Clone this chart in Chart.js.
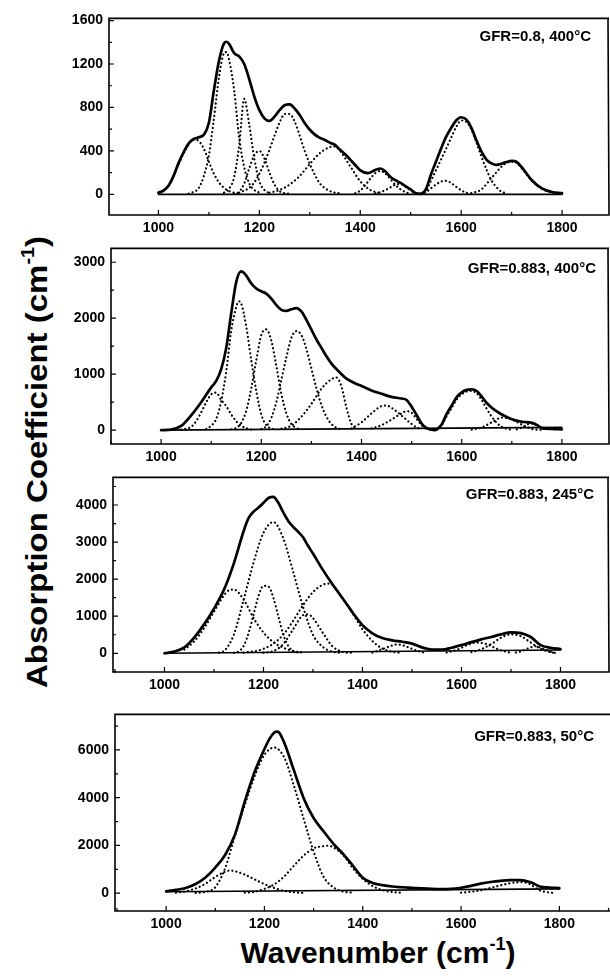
<!DOCTYPE html>
<html>
<head>
<meta charset="utf-8">
<script src="https://cdn.jsdelivr.net/npm/chart.js@4/dist/chart.umd.min.js"></script>
<style>
  body { margin: 0; background: #fff; width: 610px; height: 979px; position: relative; overflow: hidden;
         font-family: "Liberation Sans", Arial, sans-serif; color: #000; }
  canvas { position: absolute; left: 0; }
  .tag { position: absolute; font-weight: bold; font-size: 15px; white-space: nowrap; line-height: 16px; }
  .title { position: absolute; font-weight: bold; white-space: nowrap; }
  .title sup { font-size: 0.6em; vertical-align: 0.75em; line-height: 0; }
</style>
</head>
<body>

<div class="title" style="left:37px; top:462px; font-size:30px; line-height:30px; transform: translate(-50%,-50%) rotate(-90deg) scaleX(1.1);">Absorption Coefficient (cm<sup>-1</sup>)</div>
<div class="title" style="left:378px; top:938px; font-size:30px; line-height:30px; transform: translateX(-50%);">Wavenumber (cm<sup>-1</sup>)</div>

<script>
// ---- tick labels ----
const xTickVals = [1000, 1200, 1400, 1600, 1800];
const p1YTicks = [0, 400, 800, 1200, 1600];
const p2YTicks = [0, 1000, 2000, 3000];
const p3YTicks = [0, 1000, 2000, 3000, 4000];
const p4YTicks = [0, 2000, 4000, 6000];

const panelLabels = ['GFR=0.8, 400°C', 'GFR=0.883, 400°C', 'GFR=0.883, 245°C', 'GFR=0.883, 50°C'];

// ---- panel 1: GFR=0.8, 400°C  [wavenumber, absorption] ----
const p1Total = [[1000,15],[1010,35],[1020,80],[1030,170],[1040,290],[1050,390],[1060,470],[1070,510],[1080,525],[1090,550],
  [1100,660],[1110,960],[1120,1230],[1130,1390],[1135,1405],[1140,1385],[1150,1300],[1160,1270],[1170,1200],[1180,1060],
  [1190,900],[1200,775],[1210,700],[1220,676],[1230,715],[1240,775],[1250,820],[1260,828],[1270,790],[1280,730],[1290,655],
  [1300,595],[1310,550],[1320,520],[1330,500],[1340,475],[1350,455],[1360,410],[1370,370],[1380,320],[1390,270],[1400,220],
  [1415,195],[1430,225],[1440,238],[1450,210],[1460,160],[1470,130],[1480,105],[1490,75],[1500,45],[1510,10],[1520,5],
  [1530,45],[1540,180],[1550,300],[1560,420],[1570,530],[1580,610],[1590,680],[1600,710],[1610,690],[1620,615],[1630,500],
  [1640,395],[1650,320],[1660,285],[1670,272],[1680,282],[1690,298],[1700,308],[1710,298],[1720,250],[1730,190],[1740,130],
  [1760,55],[1780,22],[1800,12]];
const p1Base = [[1000,0],[1800,0]];
const p1C1 = [[1000,15],[1020,78],[1040,280],[1060,460],[1070,505],[1080,490],[1090,420],[1100,300],[1110,190],[1120,110],[1130,60],[1140,30],[1160,5]];
const p1C2 = [[1060,5],[1080,60],[1090,170],[1100,360],[1110,700],[1120,1080],[1130,1300],[1135,1310],[1140,1240],[1150,960],[1160,520],[1170,250],[1180,100],[1190,40],[1200,15]];
const p1C3 = [[1130,15],[1140,50],[1150,160],[1160,450],[1170,880],[1180,640],[1190,330],[1200,120],[1210,40],[1220,10]];
const p1C4 = [[1150,5],[1160,25],[1170,100],[1180,240],[1190,360],[1200,400],[1210,330],[1220,200],[1230,90],[1240,30],[1260,5]];
const p1C5 = [[1160,15],[1180,60],[1190,110],[1200,190],[1210,290],[1220,410],[1230,540],[1240,660],[1250,740],[1260,740],[1270,670],[1280,540],[1290,400],[1300,280],[1310,180],[1320,100],[1340,30],[1360,8]];
const p1C6 = [[1220,15],[1240,40],[1260,90],[1280,170],[1300,280],[1320,380],[1340,435],[1350,440],[1360,400],[1380,260],[1400,120],[1420,40],[1440,10]];
const p1C7 = [[1390,10],[1400,35],[1410,85],[1420,145],[1430,195],[1440,215],[1450,190],[1460,140],[1470,85],[1480,45],[1490,20],[1500,5]];
const p1C8 = [[1430,10],[1440,20],[1450,40],[1460,65],[1470,90],[1480,95],[1490,70],[1500,35],[1510,8]];
const p1C9 = [[1520,5],[1530,20],[1540,55],[1550,90],[1560,118],[1570,125],[1580,105],[1590,70],[1600,38],[1610,15],[1620,5]];
const p1C10 = [[1520,5],[1530,30],[1540,125],[1550,220],[1560,320],[1570,420],[1580,520],[1590,620],[1600,680],[1610,670],[1620,600],[1630,480],[1640,350],[1650,230],[1660,130],[1670,65],[1680,25],[1690,10]];
const p1C11 = [[1620,10],[1640,45],[1660,150],[1680,255],[1690,290],[1700,300],[1710,290],[1720,240],[1740,125],[1760,50],[1780,18],[1800,8]];

// ---- panel 2: GFR=0.883, 400°C ----
const p2Total = [[1000,0],[1020,10],[1040,75],[1060,265],[1080,500],[1100,765],[1110,880],[1120,1090],[1130,1470],[1140,2090],
  [1150,2650],[1160,2835],[1170,2760],[1180,2620],[1190,2530],[1200,2480],[1210,2440],[1220,2350],[1230,2235],[1240,2150],
  [1250,2130],[1260,2160],[1270,2180],[1280,2120],[1290,1970],[1300,1795],[1310,1620],[1320,1470],[1330,1320],[1340,1190],
  [1350,1090],[1360,1000],[1370,920],[1380,870],[1390,825],[1400,790],[1420,710],[1440,650],[1460,595],[1480,565],[1490,540],
  [1500,420],[1510,270],[1520,120],[1530,35],[1545,0],[1550,10],[1560,100],[1570,290],[1580,440],[1590,590],[1600,675],
  [1610,720],[1620,730],[1630,700],[1640,600],[1650,485],[1660,400],[1670,335],[1680,280],[1690,235],[1700,195],[1720,150],
  [1740,130],[1750,95],[1760,40],[1780,22],[1800,15]];
const p2Base = [[1000,0],[1800,50]];
const p2C1 = [[1040,10],[1060,60],[1070,160],[1080,320],[1090,500],[1100,640],[1110,670],[1120,540],[1130,430],[1140,280],[1150,160],[1160,80],[1170,35],[1180,10]];
const p2C2 = [[1090,20],[1100,80],[1110,200],[1120,520],[1130,1050],[1140,1780],[1150,2200],[1155,2300],[1160,2260],[1170,1850],[1180,1250],[1190,700],[1200,280],[1210,90],[1220,30],[1230,10]];
const p2C3 = [[1140,15],[1150,40],[1160,130],[1170,350],[1180,750],[1190,1250],[1200,1700],[1210,1800],[1220,1600],[1230,1150],[1240,650],[1250,300],[1260,110],[1270,40],[1280,10]];
const p2C4 = [[1200,20],[1210,70],[1220,220],[1230,500],[1240,900],[1250,1300],[1260,1650],[1270,1770],[1280,1700],[1290,1450],[1300,1100],[1310,750],[1320,450],[1330,240],[1340,110],[1350,45],[1360,15]];
const p2C5 = [[1240,25],[1260,80],[1280,240],[1300,470],[1320,740],[1340,910],[1350,940],[1360,780],[1370,400],[1380,110],[1390,25]];
const p2C6 = [[1380,30],[1400,140],[1420,300],[1440,430],[1450,440],[1460,400],[1480,260],[1500,110],[1510,50],[1520,15]];
const p2C7 = [[1420,30],[1440,90],[1460,190],[1480,300],[1490,340],[1500,310],[1510,200],[1520,90],[1530,20]];
const p2C8 = [[1550,10],[1560,90],[1570,250],[1580,400],[1590,550],[1600,640],[1610,690],[1620,700],[1630,660],[1640,540],[1650,380],[1660,240],[1670,130],[1680,60],[1690,25],[1700,10]];
const p2C9 = [[1620,10],[1640,50],[1660,140],[1680,225],[1690,215],[1700,190],[1720,100],[1740,20],[1760,5]];
const p2C10 = [[1710,15],[1720,45],[1730,100],[1740,120],[1750,85],[1760,30],[1770,5]];

// ---- panel 3: GFR=0.883, 245°C ----
const p3Total = [[1000,0],[1020,45],[1040,160],[1060,425],[1080,780],[1100,1205],[1120,1710],[1140,2420],[1160,3300],[1170,3650],
  [1180,3820],[1190,3930],[1200,4060],[1210,4190],[1220,4220],[1230,4060],[1240,3800],[1250,3570],[1260,3410],[1270,3280],
  [1280,3130],[1290,2900],[1300,2690],[1320,2250],[1340,1850],[1360,1480],[1380,1100],[1400,760],[1420,540],[1440,410],
  [1460,350],[1480,310],[1500,260],[1520,160],[1540,100],[1560,100],[1580,150],[1600,220],[1620,300],[1640,375],[1660,440],
  [1680,510],[1700,565],[1720,545],[1740,440],[1760,220],[1780,150],[1800,115]];
const p3Base = [[1000,0],[1800,90]];
const p3C1 = [[1040,100],[1060,320],[1080,680],[1100,1120],[1120,1560],[1130,1700],[1140,1720],[1160,1450],[1180,950],[1200,560],[1220,300],[1240,150],[1260,60],[1280,15]];
const p3C2 = [[1110,20],[1120,60],[1140,500],[1160,1450],[1180,2450],[1200,3250],[1220,3540],[1240,3100],[1260,2200],[1280,1250],[1300,500],[1320,170],[1340,40],[1360,10]];
const p3C3 = [[1140,15],[1150,50],[1160,200],[1170,550],[1180,1050],[1190,1550],[1200,1820],[1210,1800],[1220,1500],[1230,1000],[1240,500],[1250,200],[1260,60],[1270,15]];
const p3C4 = [[1200,15],[1220,60],[1240,250],[1260,650],[1280,1030],[1290,1050],[1300,950],[1320,550],[1340,180],[1360,40],[1380,10]];
const p3C5 = [[1160,20],[1180,50],[1200,120],[1220,260],[1240,500],[1260,880],[1280,1300],[1300,1650],[1320,1850],[1330,1880],[1340,1840],[1360,1480],[1380,1080],[1400,650],[1420,330],[1440,130],[1460,40],[1480,10]];
const p3C6 = [[1420,20],[1440,110],[1460,210],[1470,240],[1480,220],[1500,120],[1520,30],[1530,10]];
const p3C7 = [[1570,20],[1590,90],[1610,210],[1630,290],[1650,250],[1670,130],[1690,40],[1700,15]];
const p3C8 = [[1620,30],[1640,110],[1660,250],[1680,420],[1700,510],[1720,460],[1740,290],[1760,120],[1780,30],[1790,10]];
const p3C9 = [[1710,20],[1720,50],[1740,160],[1750,190],[1760,150],[1780,40],[1790,10]];

// ---- panel 4: GFR=0.883, 50°C ----
const p4Total = [[1000,80],[1020,140],[1040,220],[1060,385],[1080,660],[1100,1075],[1120,1600],[1140,2455],[1160,3835],[1180,5075],
  [1200,6040],[1210,6455],[1220,6730],[1225,6770],[1230,6730],[1240,6320],[1260,5145],[1280,3970],[1300,3150],[1320,2600],
  [1340,2080],[1360,1650],[1380,1150],[1400,650],[1420,430],[1440,340],[1460,280],[1480,250],[1500,225],[1520,200],
  [1540,180],[1560,170],[1580,180],[1600,230],[1620,310],[1640,400],[1660,470],[1680,520],[1700,545],[1720,545],[1740,470],
  [1750,380],[1760,280],[1770,250],[1780,240],[1800,210]];
const p4Base = [[1000,60],[1800,180]];
const p4C1 = [[1020,20],[1040,80],[1060,200],[1080,400],[1100,680],[1120,900],[1130,950],[1140,920],[1160,780],[1180,580],[1200,380],[1220,220],[1240,100],[1260,40],[1280,10]];
const p4C2 = [[1060,15],[1080,60],[1100,250],[1120,1050],[1140,2400],[1160,3700],[1180,4900],[1200,5800],[1220,6100],[1240,5700],[1260,4500],[1280,3100],[1300,1750],[1320,700],[1340,250],[1360,70],[1380,20]];
const p4C3 = [[1160,20],[1180,60],[1200,180],[1220,370],[1240,700],[1260,1150],[1280,1580],[1300,1880],[1320,1970],[1330,1990],[1340,1920],[1360,1600],[1380,1050],[1400,600],[1420,300],[1440,130],[1460,50],[1480,15]];
const p4C4 = [[1600,20],[1620,60],[1640,120],[1660,220],[1680,330],[1700,420],[1720,460],[1730,450],[1740,380],[1750,250],[1760,120],[1780,30],[1790,10]];

const FONT = '"Liberation Sans", Arial, sans-serif';

// box frame + inward tick marks
const framePlugin = {
  id: 'frame',
  afterDraw(chart, args, opts) {
    const { ctx, chartArea: a, scales: { x, y } } = chart;
    ctx.save();
    ctx.strokeStyle = '#000';
    ctx.lineWidth = 1.6;
    ctx.beginPath();
    ctx.moveTo(a.right + 1, a.top);
    ctx.lineTo(a.left, a.top);
    ctx.lineTo(a.left, a.bottom);
    ctx.lineTo(a.right + 1, a.bottom);
    if (opts.right) ctx.lineTo(a.right, a.top);
    ctx.stroke();

    ctx.lineWidth = 1.2;
    const marks = (vals, sc) => {
      const step = vals[1] - vals[0];
      const out = [];
      vals.forEach(v => out.push([v, 5]));
      for (let v = vals[0] - step / 2; v <= sc.max; v += step) {
        if (v >= sc.min) out.push([v, 3]);
      }
      return out;
    };
    ctx.beginPath();
    marks(opts.xTicks, x).forEach(([v, len]) => {
      const px = x.getPixelForValue(v);
      ctx.moveTo(px, a.bottom);
      ctx.lineTo(px, a.bottom - len);
    });
    marks(opts.yTicks, y).forEach(([v, len]) => {
      const py = y.getPixelForValue(v);
      ctx.moveTo(a.left, py);
      ctx.lineTo(a.left + len, py);
    });
    ctx.stroke();
    ctx.restore();
  }
};

function curve(pts, kind) {
  return {
    data: pts.map(p => ({ x: p[0], y: p[1] })),
    borderColor: '#000',
    borderWidth: kind === 'total' ? 2.7 : (kind === 'base' ? 1.6 : 2.2),
    borderDash: kind === 'comp' ? [0.1, 4] : [],
    borderCapStyle: 'round',
    borderJoinStyle: 'round',
    cubicInterpolationMode: kind === 'base' ? 'default' : 'monotone',
    tension: 0,
    pointRadius: 0,
    fill: false
  };
}

const panels = [
  { T: 16, B: 215, L: 109, R: 608, xMin: 902, xMax: 1891, yMin: -190, yMax: 1620, yTicks: p1YTicks, right: true,
    total: p1Total, base: p1Base, comps: [p1C1, p1C2, p1C3, p1C4, p1C5, p1C6, p1C7, p1C8, p1C9, p1C10, p1C11],
    tagRight: 19, tagY: 36 },
  { T: 246, B: 444, L: 111, R: 608, xMin: 900, xMax: 1892, yMin: -247, yMax: 3247, yTicks: p2YTicks, right: true,
    total: p2Total, base: p2Base, comps: [p2C1, p2C2, p2C3, p2C4, p2C5, p2C6, p2C7, p2C8, p2C9, p2C10],
    tagRight: 14, tagY: 268 },
  { T: 475, B: 672, L: 113, R: 608, xMin: 896, xMax: 1896, yMin: -505, yMax: 4745, yTicks: p3YTicks, right: true,
    total: p3Total, base: p3Base, comps: [p3C1, p3C2, p3C3, p3C4, p3C5, p3C6, p3C7, p3C8, p3C9],
    tagRight: 16, tagY: 494 },
  { T: 712, B: 911, L: 115, R: 610, xMin: 896, xMax: 1903, yMin: -745, yMax: 7490, yTicks: p4YTicks, right: false,
    total: p4Total, base: p4Base, comps: [p4C1, p4C2, p4C3, p4C4],
    tagRight: 16, tagY: 736 }
];

panels.forEach((p, i) => {
  const top = p.T - 12;
  const h = p.B - top + 24;
  const cv = document.createElement('canvas');
  cv.style.top = top + 'px';
  cv.style.width = '610px';
  cv.style.height = h + 'px';
  cv.width = 610; cv.height = h;
  document.body.appendChild(cv);

  const tag = document.createElement('div');
  tag.className = 'tag';
  tag.textContent = panelLabels[i];
  tag.style.right = p.tagRight + 'px';
  tag.style.top = (p.tagY - 8) + 'px';
  document.body.appendChild(tag);

  const datasets = p.comps.map(c => curve(c, 'comp'));
  datasets.push(curve(p.base, 'base'));
  datasets.push(curve(p.total, 'total'));

  new Chart(cv, {
    type: 'line',
    data: { datasets },
    plugins: [framePlugin],
    options: {
      responsive: false,
      animation: false,
      events: [],
      layout: { padding: { top: 12, left: 0, right: 610 - p.R, bottom: 0 } },
      plugins: {
        legend: { display: false },
        tooltip: { enabled: false },
        frame: { right: p.right, xTicks: xTickVals, yTicks: p.yTicks }
      },
      scales: {
        x: {
          type: 'linear', min: p.xMin, max: p.xMax,
          grid: { display: false, drawTicks: false },
          border: { display: false },
          afterBuildTicks: s => { s.ticks = xTickVals.map(v => ({ value: v })); },
          afterFit: s => { s.height = 24; },
          ticks: { color: '#000', padding: 5, maxRotation: 0, autoSkip: false,
                   callback: v => String(v),
                   font: { family: FONT, size: 14, weight: 'bold' } }
        },
        y: {
          type: 'linear', min: p.yMin, max: p.yMax,
          grid: { display: false, drawTicks: false },
          border: { display: false },
          afterBuildTicks: s => { s.ticks = p.yTicks.map(v => ({ value: v })); },
          afterFit: s => { s.width = p.L; },
          ticks: { color: '#000', padding: 6, autoSkip: false,
                   callback: v => String(v),
                   font: { family: FONT, size: 14, weight: 'bold' } }
        }
      }
    }
  });
});
</script>
</body>
</html>
